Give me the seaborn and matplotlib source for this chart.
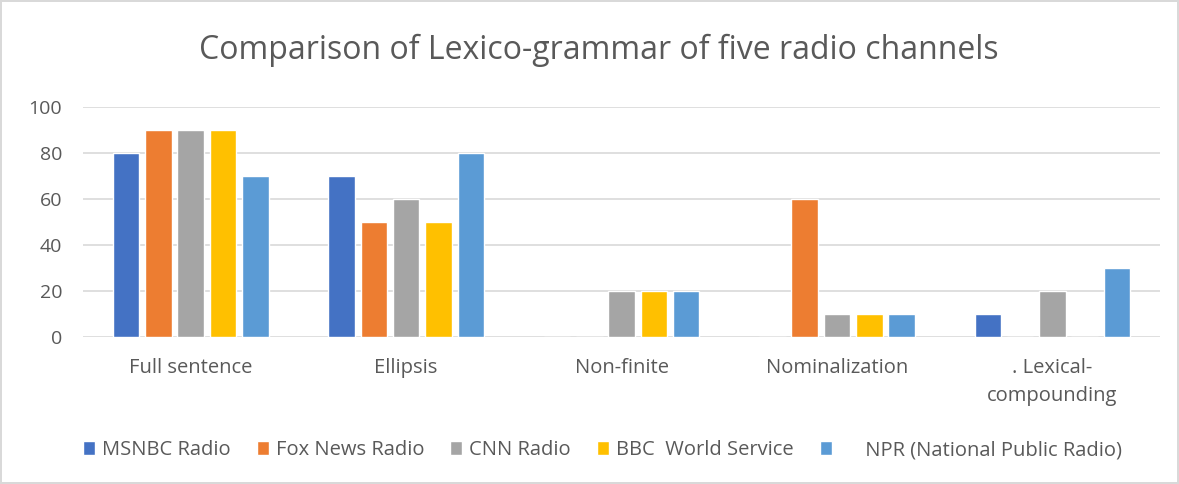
import matplotlib
matplotlib.use("Agg")
import matplotlib.pyplot as plt
import seaborn as sns
import pandas as pd

categories = ["Full sentence", "Ellipsis", "Non-finite", "Nominalization", ". Lexical-\ncompounding"]
series = ["MSNBC Radio", "Fox News Radio", "CNN Radio", "BBC  World Service", "     NPR (National Public Radio)"]
msnbc = [80, 70, 0, 0, 10]
fox = [90, 50, 0, 60, 0]
cnn = [90, 60, 20, 10, 20]
bbc = [90, 50, 20, 10, 0]
npr = [70, 80, 20, 10, 30]
colors = ["#4472C4", "#ED7D31", "#A5A5A5", "#FFC000", "#5B9BD5"]
yticks = [0, 20, 40, 60, 80, 100]

rows = []
for s, vals in zip(series, [msnbc, fox, cnn, bbc, npr]):
    for c, v in zip(categories, vals):
        rows.append({"category": c, "series": s, "value": v})
df = pd.DataFrame(rows)

sns.set_theme(style="white")
plt.rcParams['font.family'] = ['Open Sans', 'DejaVu Sans']
txt = "#595959"

fig = plt.figure(figsize=(11.79, 4.84), dpi=100, edgecolor="#d9d9d9", linewidth=1.5)
ax = fig.add_axes([0.0704, 0.3037, 0.9136, 0.4752])
sns.barplot(data=df, x="category", y="value", hue="series", order=categories,
            hue_order=series, palette=colors, width=0.75, gap=0.18,
            ax=ax, legend=True, saturation=1)

ax.set_ylim(0, 100)
ax.set_yticks(yticks)
ax.set_xlim(-0.5, 4.5)
ax.yaxis.grid(True, color="#d9d9d9", linewidth=1.2)
ax.set_axisbelow(True)
for sp in ax.spines.values():
    sp.set_visible(False)
ax.tick_params(axis="x", length=0, colors=txt, labelsize=14.5, pad=15)
ax.tick_params(axis="y", length=0, colors=txt, labelsize=14, pad=15)
ax.set_xlabel("")
ax.set_ylabel("")
for lbl in ax.get_xticklabels():
    lbl.set_linespacing(1.55)

fig.text(0.508, 0.895, "Comparison of Lexico-grammar of five radio channels",
         ha="center", va="center", fontsize=23, color=txt)

handles, labels = ax.get_legend_handles_labels()
ax.legend_.remove()
fig.legend(handles, labels, loc="center", bbox_to_anchor=(0.511, 0.07), ncol=5,
           frameon=False, fontsize=14.5, labelcolor=txt, handlelength=0.6,
           handleheight=0.75, handletextpad=0.35, columnspacing=1.3)

fig.savefig("out.png", dpi=100)
